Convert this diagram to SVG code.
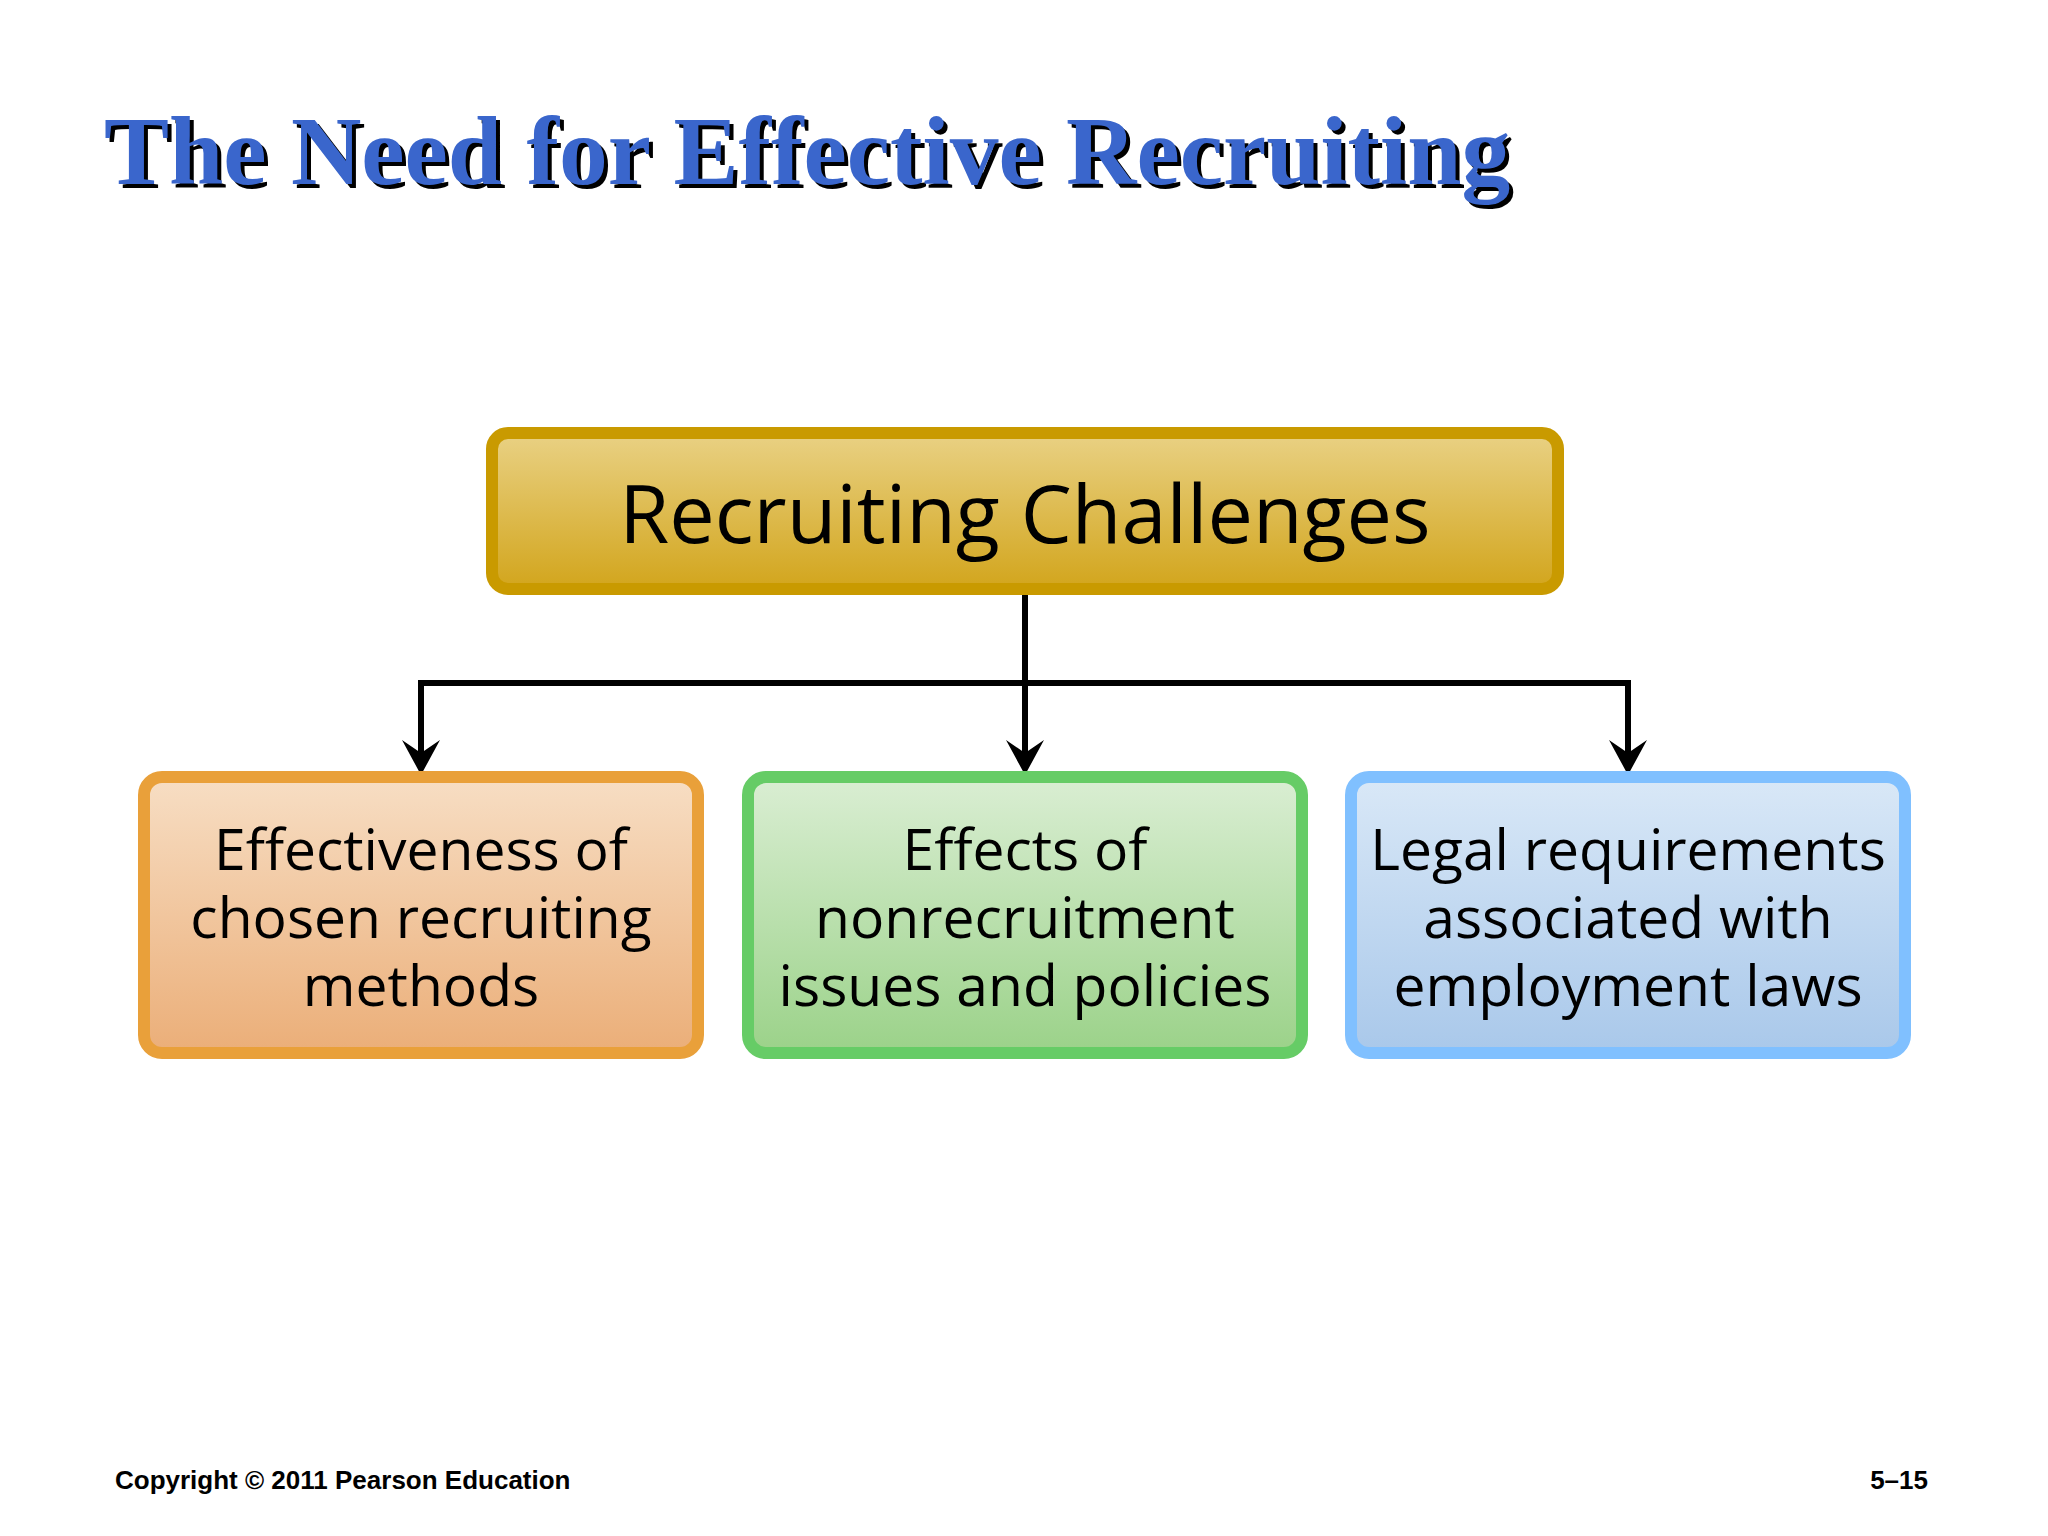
<svg xmlns="http://www.w3.org/2000/svg" width="2048" height="1536" viewBox="0 0 2048 1536">
  <defs>
    <linearGradient id="gGold" x1="0" y1="0" x2="0" y2="1">
      <stop offset="0" stop-color="#E9D184"/>
      <stop offset="1" stop-color="#D2A51C"/>
    </linearGradient>
    <linearGradient id="gOrange" x1="0" y1="0" x2="0" y2="1">
      <stop offset="0" stop-color="#F7DEC4"/>
      <stop offset="1" stop-color="#EBAE78"/>
    </linearGradient>
    <linearGradient id="gGreen" x1="0" y1="0" x2="0" y2="1">
      <stop offset="0" stop-color="#DAEED3"/>
      <stop offset="1" stop-color="#9BD289"/>
    </linearGradient>
    <linearGradient id="gBlue" x1="0" y1="0" x2="0" y2="1">
      <stop offset="0" stop-color="#D9E8F7"/>
      <stop offset="1" stop-color="#A9C8EA"/>
    </linearGradient>
  </defs>
  <style>
    .title { font-family: "Liberation Serif", "Times New Roman", serif; font-weight: bold; font-size: 97.5px; }
    .box { stroke-width: 12; }
    .main { font-family: "Open Sans", "Noto Sans", sans-serif; font-size: 81px; fill: #000; text-anchor: middle; }
    .lbl { font-family: "Open Sans", "Noto Sans", sans-serif; font-size: 57px; fill: #000; text-anchor: middle; }
    .conn { fill: none; stroke: #000; stroke-width: 6; }
    .head { fill: #000; stroke: none; }
    .foot { font-family: "Liberation Sans", Arial, sans-serif; font-weight: bold; font-size: 26px; fill: #000; }
  </style>
  <rect width="2048" height="1536" fill="#FFFFFF"/>

  <g id="title">
    <text class="title" x="108" y="188" fill="#000">The Need for Effective Recruiting</text>
    <text class="title" x="104" y="184" fill="#3A66CC">The Need for Effective Recruiting</text>
  </g>

  <g id="connectors">
    <path class="conn" d="M1025,595 V683"/>
    <path class="conn" d="M421,755 V683 H1628 V755"/>
    <path class="conn" d="M1025,683 V755"/>
    <path class="head" d="M421,775 L402,740 L421,753 L440,740 Z"/>
    <path class="head" d="M1025,775 L1006,740 L1025,753 L1044,740 Z"/>
    <path class="head" d="M1628,775 L1609,740 L1628,753 L1647,740 Z"/>
  </g>

  <g id="node-challenges">
    <rect class="box" x="492" y="433" width="1066" height="156" rx="16" fill="url(#gGold)" stroke="#C99A00"/>
    <text class="main" x="1025" y="543">Recruiting Challenges</text>
  </g>

  <g id="node-effectiveness">
    <rect class="box" x="144" y="777" width="554" height="276" rx="18" fill="url(#gOrange)" stroke="#E9A03A"/>
    <text class="lbl" x="421" y="870">Effectiveness of<tspan x="421" dy="68">chosen recruiting</tspan><tspan x="421" dy="68">methods</tspan></text>
  </g>

  <g id="node-effects">
    <rect class="box" x="748" y="777" width="554" height="276" rx="18" fill="url(#gGreen)" stroke="#66CC66"/>
    <text class="lbl" x="1025" y="870">Effects of<tspan x="1025" dy="68">nonrecruitment</tspan><tspan x="1025" dy="68">issues and policies</tspan></text>
  </g>

  <g id="node-legal">
    <rect class="box" x="1351" y="777" width="554" height="276" rx="18" fill="url(#gBlue)" stroke="#80C0FF"/>
    <text class="lbl" x="1628" y="870">Legal requirements<tspan x="1628" dy="68">associated with</tspan><tspan x="1628" dy="68">employment laws</tspan></text>
  </g>

  <g id="footer">
    <text class="foot" x="115" y="1489">Copyright © 2011 Pearson Education</text>
    <text class="foot" x="1928" y="1489" text-anchor="end">5–15</text>
  </g>
</svg>
